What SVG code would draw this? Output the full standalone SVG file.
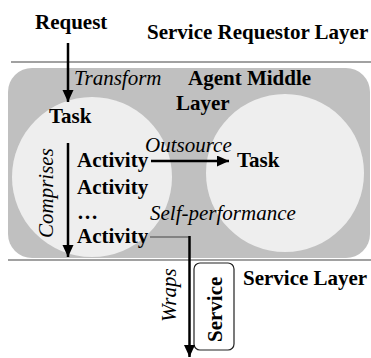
<svg xmlns="http://www.w3.org/2000/svg" width="371" height="358" viewBox="0 0 371 358" font-family="'Liberation Serif', Tinos, 'DejaVu Serif', serif">
<style>
text{font-family:'Liberation Serif', Tinos, 'Times New Roman', 'DejaVu Serif', serif;font-size:21px;fill:#000}
.b{font-weight:bold}
.i{font-style:italic}
.sep{stroke:#444;stroke-width:1.2;fill:none}
.arr{stroke:#000;stroke-width:2.5;fill:none;marker-end:url(#ah)}
.thin{stroke:#444;stroke-width:1.2;fill:none}
</style>
<defs>
<marker id="ah" markerUnits="userSpaceOnUse" markerWidth="12" markerHeight="12" refX="12" refY="5.5" orient="auto">
<path d="M0,0 L12,5.5 L0,11 z" fill="#000"/>
</marker>
</defs>
<rect width="371" height="358" fill="#fff"/>
<g id="requestor-layer">
<line class="sep" x1="11" y1="62" x2="371" y2="62"/>
<text class="b" x="147" y="39">Service Requestor Layer</text>
</g>
<g id="request">
<text class="b" x="35" y="29">Request</text>
</g>
<g id="agent-middle-layer">
<rect x="8" y="68" width="362" height="190" rx="24" fill="#c0c0c0"/>
<text class="b" x="188" y="85">Agent Middle</text>
<text class="b" x="176" y="110">Layer</text>
</g>
<g id="left-task">
<circle cx="92" cy="177" r="80" fill="#eeeeee"/>
<text class="b" x="49" y="123">Task</text>
<text class="b" x="77" y="167">Activity</text>
<text class="b" x="77" y="194">Activity</text>
<text class="b" x="77" y="219">…</text>
<text class="b" x="77" y="243">Activity</text>
</g>
<g id="right-task">
<circle cx="285" cy="173" r="79" fill="#eeeeee"/>
<text class="b" x="237" y="167">Task</text>
</g>
<g id="service-layer">
<line class="sep" x1="8" y1="260" x2="371" y2="260"/>
<text class="b" x="243" y="285">Service Layer</text>
</g>
<g id="service">
<rect x="194" y="263" width="40" height="87" rx="6" fill="#fff" stroke="#222" stroke-width="1.2"/>
<text class="b" x="222" y="342" transform="rotate(-90 222 342)">Service</text>
</g>
<g id="connectors">
<line class="arr" x1="68" y1="43" x2="68" y2="102"/>
<text class="i" x="74" y="85">Transform</text>
<line class="arr" x1="68" y1="143" x2="68" y2="257"/>
<text class="i" x="53" y="238" transform="rotate(-90 53 238)">Comprises</text>
<line class="arr" x1="151" y1="161" x2="229" y2="161"/>
<text class="i" x="145" y="152">Outsource</text>
<text class="i" x="150" y="220">Self-performance</text>
<polyline class="thin" points="150,237 189,237"/>
<line class="arr" x1="189.5" y1="236" x2="189.5" y2="357"/>
<text class="i" x="176" y="322" transform="rotate(-90 176 322)">Wraps</text>
</g>
</svg>
